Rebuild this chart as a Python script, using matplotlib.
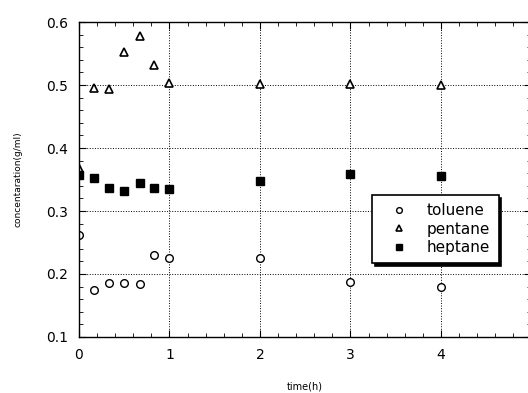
# concentration vs time plot
import matplotlib
matplotlib.use("Agg")
import matplotlib.pyplot as plt
from matplotlib.ticker import MultipleLocator

# data
time    = [0, 0.17, 0.33, 0.5, 0.67, 0.83, 1, 2, 3, 4]
toluene = [0.262, 0.175, 0.186, 0.186, 0.184, 0.230, 0.226, 0.225, 0.187, 0.179]
pentane = [0.368, 0.495, 0.494, 0.552, 0.577, 0.532, 0.503, 0.501, 0.502, 0.500]
heptane = [0.357, 0.353, 0.336, 0.332, 0.344, 0.336, 0.335, 0.348, 0.359, 0.356]

xticks = [0, 1, 2, 3, 4, 5]
yticks = [0.1, 0.2, 0.3, 0.4, 0.5, 0.6]

fig = plt.figure(figsize=(5.28, 3.93), dpi=100)
ax = fig.add_axes([0.1496, 0.1425, 0.857, 0.8015])

ax.plot(time, toluene, 'o', ms=5.5, mfc='white', mec='black', mew=1.0, label='toluene')
ax.plot(time, pentane, '^', ms=6, mfc='white', mec='black', mew=1.2, label='pentane')
ax.plot(time, heptane, 's', ms=6, mfc='black', mec='black', label='heptane')

ax.set_xlim(0, 5)
ax.set_ylim(0.1, 0.6)
ax.set_xticks(xticks)
ax.set_yticks(yticks)
ax.set_xticklabels([str(t) for t in xticks])
ax.set_yticklabels(["%.1f" % v for v in yticks])
ax.xaxis.set_minor_locator(MultipleLocator(0.2))
ax.yaxis.set_minor_locator(MultipleLocator(0.02))
ax.tick_params(which='both', direction='in', top=True, right=True, colors='black')
ax.tick_params(which='major', length=5, labelsize=10, pad=8)
ax.tick_params(which='minor', length=3)
ax.grid(True, which='major', linestyle=':', color='black', linewidth=0.7)
for s in ax.spines.values():
    s.set_linewidth(1.0)

ax.set_xlabel("time(h)", fontsize=7, labelpad=14)
ax.set_ylabel("concentaration(g/ml)", fontsize=6.5, labelpad=17)

leg = ax.legend(loc='upper left', bbox_to_anchor=(0.647, 0.451), borderaxespad=0,
                fontsize=11, frameon=True, fancybox=False, edgecolor='black',
                shadow={'color': 'black', 'alpha': 1}, handletextpad=0.55,
                labelspacing=0.22, borderpad=0.55, handlelength=2.5,
                markerscale=0.75)
leg.get_frame().set_linewidth(1.2)

fig.savefig("out.png", dpi=100)
